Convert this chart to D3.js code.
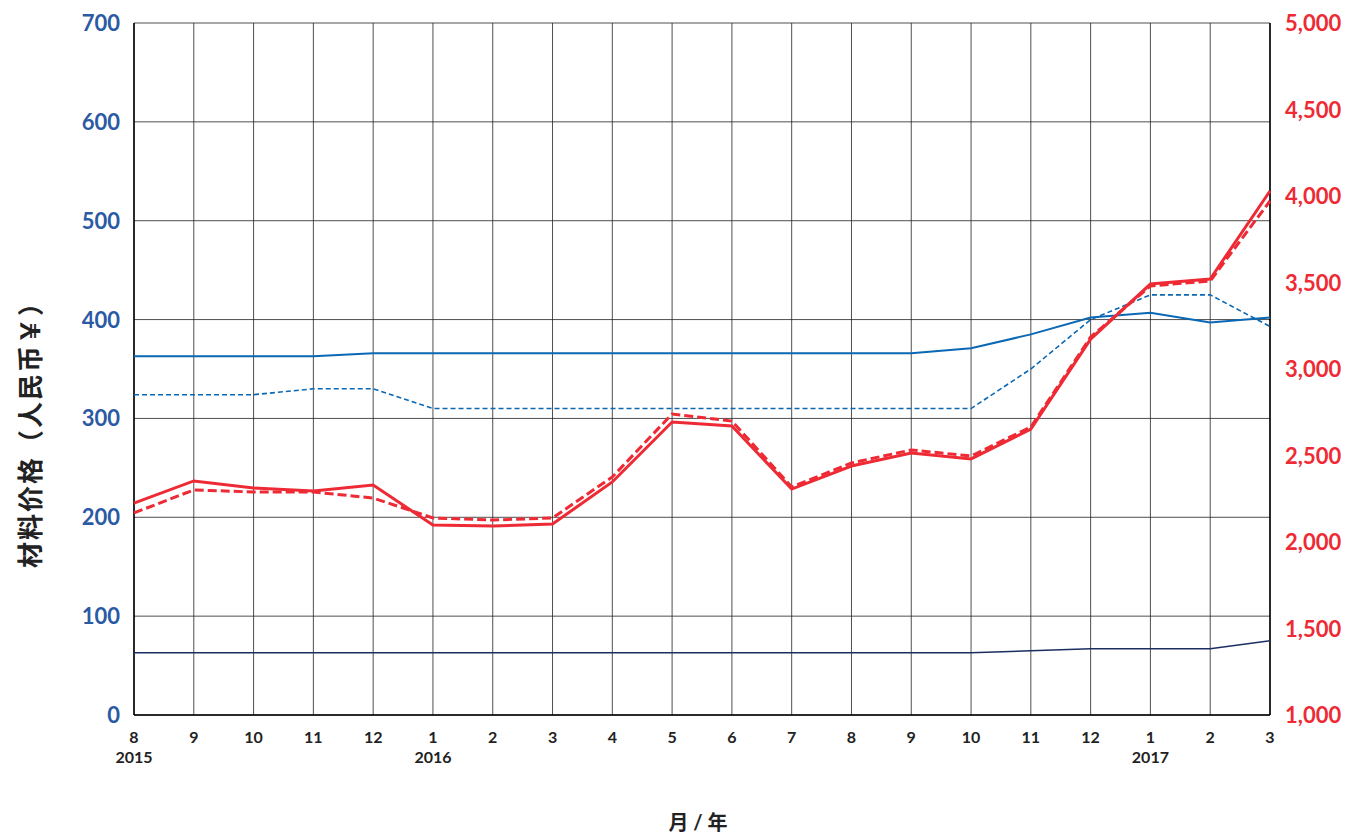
<!DOCTYPE html>
<html><head><meta charset="utf-8">
<script src="https://cdn.jsdelivr.net/npm/d3@7"></script>
<style>body{margin:0;background:#fff}text{font-family:Lato,"Noto Sans CJK SC",sans-serif;font-weight:bold}</style>
</head><body><svg width="1363" height="834"></svg>
<script>
var months = ["8","9","10","11","12","1","2","3","4","5","6","7","8","9","10","11","12","1","2","3"];
var years = {0:"2015",5:"2016",17:"2017"};
var blueSolid = [363,363,363,363,366,366,366,366,366,366,366,366,366,366,371,385,402,407,397,402];
var blueDash = [324,324,324,330,330,310,310,310,310,310,310,310,310,310,310,350,400,425,425,393];
var navy = [63,63,63,63,63,63,63,63,63,63,63,63,63,63,63,65,67,67,67,75];
var redSolid = [2225,2353,2312,2295,2329,2098,2092,2104,2347,2694,2671,2306,2439,2514,2480,2653,3173,3491,3520,4029];
var redDash = [2168,2301,2289,2289,2254,2139,2127,2139,2376,2740,2699,2318,2457,2532,2497,2665,3185,3480,3509,3971];

var svg = d3.select("svg");
var L = 134, R = 1270, T = 23, B = 715;
var x = d3.scaleLinear().domain([0, 19]).range([L, R]);
var yL = d3.scaleLinear().domain([0, 700]).range([B, T]);
var yR = d3.scaleLinear().domain([1000, 5000]).range([B, T]);

// grid
svg.append("g").selectAll("line").data(d3.range(0, 701, 100)).enter().append("line")
    .attr("x1", L).attr("x2", R).attr("y1", function (d) { return yL(d); }).attr("y2", function (d) { return yL(d); })
    .style("stroke", "#222").style("stroke-width", 0.8);
svg.append("g").selectAll("line").data(d3.range(20)).enter().append("line")
    .attr("x1", function (d) { return x(d); }).attr("x2", function (d) { return x(d); }).attr("y1", T).attr("y2", B)
    .style("stroke", "#222").style("stroke-width", 0.8);
svg.append("line").attr("x1", L).attr("x2", R).attr("y1", B).attr("y2", B).style("stroke", "#000").style("stroke-width", 1.5);
svg.append("line").attr("x1", L).attr("x2", L).attr("y1", T).attr("y2", B).style("stroke", "#000").style("stroke-width", 1.5);
svg.append("line").attr("x1", R).attr("x2", R).attr("y1", T).attr("y2", B).style("stroke", "#000").style("stroke-width", 1.5);

// tick labels
svg.append("g").selectAll("text").data(d3.range(0, 701, 100)).enter().append("text")
    .attr("x", 120).attr("y", function (d) { return yL(d) + 8; }).attr("text-anchor", "end")
    .style("fill", "#2b5aa5").style("font-size", "22px").text(function (d) { return d; });
svg.append("g").selectAll("text").data(d3.range(1000, 5001, 500)).enter().append("text")
    .attr("x", 1285).attr("y", function (d) { return yR(d) + 8; })
    .style("fill", "#ee2a35").style("font-size", "22px").text(d3.format(","));
svg.append("g").selectAll("text").data(months).enter().append("text")
    .attr("x", function (d, i) { return x(i); }).attr("y", 743).attr("text-anchor", "middle")
    .style("fill", "#222").style("font-size", "16px").text(function (d) { return d; });
svg.append("g").selectAll("text").data(Object.keys(years)).enter().append("text")
    .attr("x", function (d) { return x(+d); }).attr("y", 763).attr("text-anchor", "middle")
    .style("fill", "#222").style("font-size", "16px").text(function (d) { return years[d]; });
svg.append("text").attr("x", 698).attr("y", 830).attr("text-anchor", "middle")
    .style("fill", "#222").style("font-size", "20px").text("月 / 年");
svg.append("text").attr("transform", "translate(40,428) rotate(-90)").attr("text-anchor", "middle")
    .style("fill", "#222").style("font-size", "26px").style("letter-spacing", "2px").text("材料价格（人民币￥）");

// lines
function draw(data, y, color, width, dash) {
    svg.append("path").datum(data)
        .attr("d", d3.line().x(function (d, i) { return x(i); }).y(function (d) { return y(d); }))
        .style("fill", "none").style("stroke", color).style("stroke-width", width)
        .style("stroke-dasharray", dash || null);
}
draw(navy, yL, "#1b2f63", 1.5);
draw(blueDash, yL, "#0a68b4", 1.6, "5,3");
draw(blueSolid, yL, "#0a68b4", 2);
draw(redDash, yR, "#ee2a35", 3, "9,4");
draw(redSolid, yR, "#ee2a35", 3);
</script></body></html>
